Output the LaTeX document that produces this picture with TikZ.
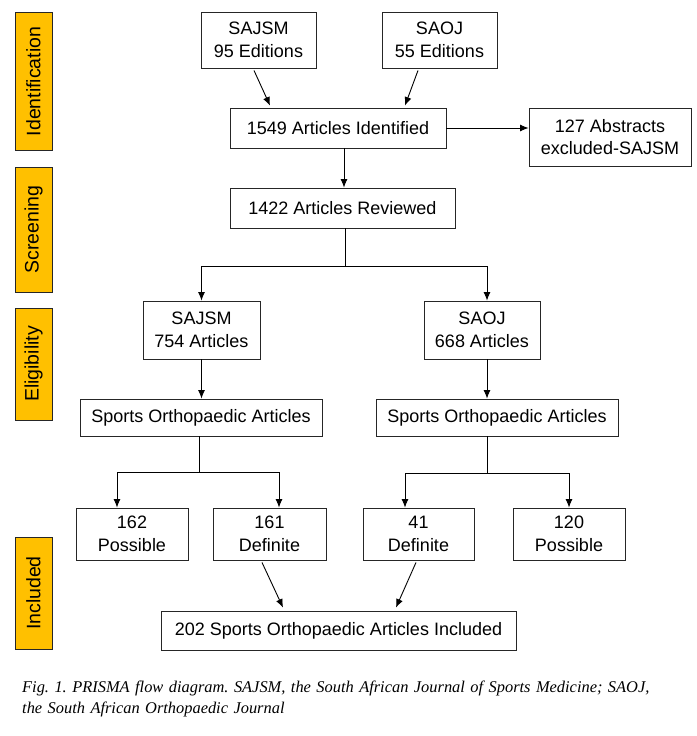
\documentclass[tikz,border=0pt]{standalone}
\usepackage{fontspec}
\setmainfont{Liberation Sans}
\newfontfamily\capfont{Liberation Serif}
\usetikzlibrary{arrows.meta}
\definecolor{phaseyellow}{HTML}{FFC000}
\tikzset{
  box/.style={draw=black!85, line width=0.9pt, fill=white, inner sep=0pt, align=center,
    font=\fontsize{18}{22.5}\selectfont},
  phase/.style={draw=black!85, line width=0.9pt, fill=phaseyellow, inner sep=0pt,
    minimum height=37pt, rotate=90, font=\fontsize{19.5}{22}\selectfont},
  link/.style={line width=0.9pt, -{Latex[length=8.5pt,width=7pt]}},
}
\begin{document}
\begin{tikzpicture}[x=1pt, y=-1pt]
\useasboundingbox (0,0) rectangle (696,736);

  % Phase labels
  \node[phase, minimum width=138pt] (idlab) at (33.5,81.5) {Identification};
  \node[phase, minimum width=125pt] (scrlab) at (33.5,229.5) {Screening};
  \node[phase, minimum width=112pt] (elilab) at (33.5,364) {Eligibility};
  \node[phase, minimum width=112pt] (inclab) at (33.5,593) {Included};

  % Identification
  \node[box, minimum width=115pt, minimum height=56pt] (sajsm) at (258.5,40) {SAJSM\\95 Editions};
  \node[box, minimum width=115pt, minimum height=56pt] (saoj) at (439.5,40) {SAOJ\\55 Editions};
  \node[box, minimum width=216pt, minimum height=40pt] (ident) at (338,128) {1549 Articles Identified};
  \node[box, minimum width=162pt, minimum height=58pt] (excl) at (610,137) {127 Abstracts\\excluded-SAJSM};

  % Screening
  \node[box, minimum width=225pt, minimum height=40pt] (reviewed) at (342.5,208) {1422 Articles Reviewed};

  % Eligibility
  \node[box, minimum width=117pt, minimum height=58pt] (sajsmA) at (201.5,330) {SAJSM\\754 Articles};
  \node[box, minimum width=116pt, minimum height=58pt] (saojA) at (482,330) {SAOJ\\668 Articles};
  \node[box, minimum width=242pt, minimum height=37pt] (sportsL) at (201,417.5) {Sports Orthopaedic Articles};
  \node[box, minimum width=242pt, minimum height=37pt] (sportsR) at (497,417.5) {Sports Orthopaedic Articles};

  % Included
  \node[box, minimum width=112pt, minimum height=52pt] (possL) at (132,534) {162\\Possible};
  \node[box, minimum width=113pt, minimum height=52pt] (defL) at (269.5,534) {161\\Definite};
  \node[box, minimum width=111pt, minimum height=52pt] (defR) at (418.5,534) {41\\Definite};
  \node[box, minimum width=112pt, minimum height=52pt] (possR) at (569,534) {120\\Possible};
  \node[box, minimum width=355pt, minimum height=39pt] (incl) at (338.5,630.5) {202 Sports Orthopaedic Articles Included};

  % Connectors
  \draw[link] ([xshift=-4.5pt,yshift=-2pt]sajsm.south) -- ([xshift=-68pt,yshift=2pt]ident.north);
  \draw[link] ([xshift=-21.5pt,yshift=-2pt]saoj.south) -- ([xshift=67pt,yshift=2pt]ident.north);
  \draw[link] (ident.east) -- (ident.east -| excl.west);
  \draw[link] ([xshift=6pt]ident.south) -- ([xshift=6pt]ident.south |- reviewed.north);
  \draw[link] ([xshift=2.5pt]reviewed.south) -- ++(0,38) -| (sajsmA.north);
  \draw[link] ([xshift=2.5pt]reviewed.south) -- ++(0,38) -| ([xshift=5pt]saojA.north);
  \draw[link] (sajsmA.south) -- (sajsmA.south |- sportsL.north);
  \draw[link] ([xshift=5pt]saojA.south) -- ([xshift=5pt]saojA.south |- sportsR.north);
  \draw[link] ([xshift=-2pt]sportsL.south) -- ++(0,36) -| ([xshift=-15pt]possL.north);
  \draw[link] ([xshift=-2pt]sportsL.south) -- ++(0,36) -| ([xshift=9.5pt]defL.north);
  \draw[link] ([xshift=-10pt]sportsR.south) -- ++(0,37) -| ([xshift=-13.5pt]defR.north);
  \draw[link] ([xshift=-10pt]sportsR.south) -- ++(0,37) -| (possR.north);
  \draw[link] ([xshift=-7.5pt,yshift=-2pt]defL.south) -- ([xshift=-55.5pt,yshift=3pt]incl.north);
  \draw[link] ([xshift=-2.5pt,yshift=-2pt]defR.south) -- ([xshift=57.5pt,yshift=3pt]incl.north);

  % Caption
  \node[anchor=north west, inner sep=0pt, text width=670pt, align=left,
    font=\capfont\itshape\frenchspacing\fontsize{16.4}{21}\selectfont] (caption) at (22,681)
    {Fig. 1. PRISMA flow diagram. SAJSM, the South African Journal of Sports Medicine; SAOJ,\\
     the South African Orthopaedic Journal};
\end{tikzpicture}
\end{document}
